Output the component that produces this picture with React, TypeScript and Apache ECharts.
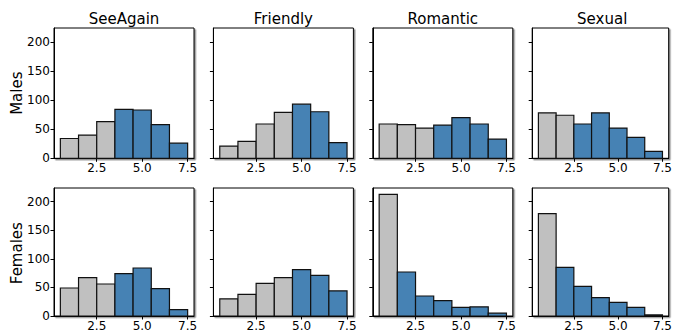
import React, { useEffect, useRef } from "react";
import * as echarts from "echarts";

const categories = ["SeeAgain", "Friendly", "Romantic", "Sexual"];
const groups = ["Males", "Females"];
const binEdges = [0.5, 1.5, 2.5, 3.5, 4.5, 5.5, 6.5, 7.5];
const xTickValues = [2.5, 5.0, 7.5];
const yTickValues = [0, 50, 100, 150, 200];

const maleSeeAgain = [34, 40, 63, 84, 83, 58, 26];
const maleFriendly = [21, 29, 59, 79, 93, 80, 27];
const maleRomantic = [59, 58, 52, 57, 70, 59, 33];
const maleSexual = [78, 74, 59, 78, 52, 36, 12];
const femaleSeeAgain = [49, 67, 56, 74, 84, 48, 11];
const femaleFriendly = [30, 38, 57, 67, 81, 71, 44];
const femaleRomantic = [213, 77, 35, 27, 15, 16, 5];
const femaleSexual = [179, 85, 52, 32, 24, 15, 2];

// index of the first bin drawn in blue, per panel
const maleBlueFrom = [3, 4, 3, 2];
const femaleBlueFrom = [3, 4, 1, 1];

const rows = [
  [maleSeeAgain, maleFriendly, maleRomantic, maleSexual],
  [femaleSeeAgain, femaleFriendly, femaleRomantic, femaleSexual],
];
const blueFrom = [maleBlueFrom, femaleBlueFrom];

const GREY = "#c0c0c0";
const BLUE = "#4682b4";
const FONT = "DejaVu Sans";

export default function App() {
  const ref = useRef<HTMLDivElement>(null);
  useEffect(() => {
    if (!ref.current) return;
    const chart = echarts.init(ref.current, undefined, { renderer: "svg" });
    const colLeft = [54, 213.4, 372.8, 532.2];
    const rowTop = [28, 188];
    const W = 140;
    const H = 130.3;
    const grids: any[] = [];
    const xAxes: any[] = [];
    const yAxes: any[] = [];
    const series: any[] = [];
    const graphics: any[] = [];
    let idx = 0;
    for (let r = 0; r < 2; r++) {
      for (let c = 0; c < 4; c++) {
        grids.push({
          left: colLeft[c],
          top: rowTop[r],
          width: W,
          height: H,
          show: true,
          backgroundColor: "#fff",
          borderColor: "#000",
          borderWidth: 1,
          shadowColor: "rgba(0,0,0,0.45)",
          shadowOffsetX: 1.5,
          shadowOffsetY: 1.5,
          shadowBlur: 0,
        });
        xAxes.push({
          type: "value",
          gridIndex: idx,
          min: 0.15,
          max: 7.85,
          splitLine: { show: false },
          axisLine: { show: true, onZero: false, lineStyle: { color: "#000", width: 1 } },
          axisTick: { show: true, length: 3.5, customValues: xTickValues, lineStyle: { color: "#000" } },
          axisLabel: {
            show: true,
            customValues: xTickValues,
            margin: 4,
            fontFamily: FONT,
            fontSize: 12,
            color: "#000",
            formatter: (v: number) => v.toFixed(1),
          },
        });
        yAxes.push({
          type: "value",
          gridIndex: idx,
          min: 0,
          max: 224,
          splitLine: { show: false },
          axisLine: { show: true, lineStyle: { color: "#000", width: 1 } },
          axisTick: { show: true, length: 3.5, customValues: yTickValues, lineStyle: { color: "#000" } },
          axisLabel: {
            show: c === 0,
            customValues: yTickValues,
            margin: 4,
            fontFamily: FONT,
            fontSize: 12,
            color: "#000",
          },
        });
        const counts = rows[r][c];
        const bf = blueFrom[r][c];
        const data = counts.map((v, i) => [binEdges[i], binEdges[i + 1], v, i >= bf ? 1 : 0]);
        series.push({
          type: "custom",
          xAxisIndex: idx,
          yAxisIndex: idx,
          data,
          renderItem: (params: any, api: any) => {
            const x0 = api.value(0);
            const x1 = api.value(1);
            const y = api.value(2);
            const p0 = api.coord([x0, y]);
            const p1 = api.coord([x1, 0]);
            return {
              type: "rect",
              shape: { x: p0[0], y: p0[1], width: p1[0] - p0[0], height: p1[1] - p0[1] },
              style: {
                fill: api.value(3) ? BLUE : GREY,
                stroke: "#111",
                lineWidth: 1.2,
              },
            };
          },
        });
        idx++;
      }
    }
    for (let c = 0; c < 4; c++) {
      graphics.push({
        type: "text",
        x: colLeft[c] + W / 2,
        y: 26,
        style: {
          text: categories[c],
          fontFamily: FONT,
          fontSize: 15,
          fill: "#000",
          align: "center",
          verticalAlign: "bottom",
        },
      });
    }
    for (let r = 0; r < 2; r++) {
      graphics.push({
        type: "text",
        x: 17,
        y: rowTop[r] + H / 2,
        rotation: Math.PI / 2,
        style: {
          text: groups[r],
          fontFamily: FONT,
          fontSize: 15,
          fill: "#000",
          align: "center",
          verticalAlign: "middle",
        },
      });
    }
    chart.setOption({
      animation: false,
      backgroundColor: "#fff",
      grid: grids,
      xAxis: xAxes,
      yAxis: yAxes,
      series,
      graphic: graphics,
    });
    return () => chart.dispose();
  }, []);
  return (
    <div
      ref={ref}
      style={{ position: "fixed", left: 0, top: 0, width: 675, height: 332 }}
    />
  );
}
